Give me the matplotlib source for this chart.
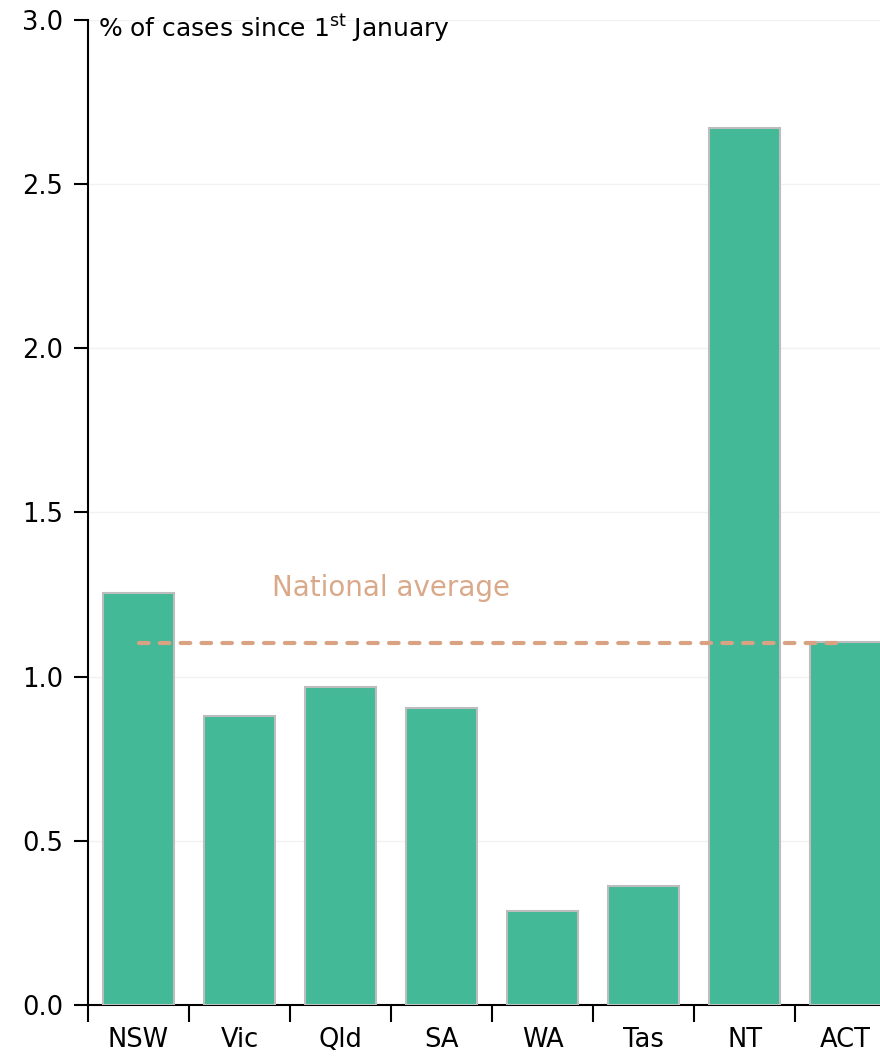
import matplotlib
matplotlib.use("Agg")
import matplotlib.pyplot as plt

categories = ["NSW", "Vic", "Qld", "SA", "WA", "Tas", "NT", "ACT"]
values = [1.255, 0.880, 0.969, 0.905, 0.286, 0.362, 2.671, 1.106]
national_average = 1.103
yticks = [0.0, 0.5, 1.0, 1.5, 2.0, 2.5, 3.0]

plt.rcParams['font.family'] = ['DejaVu Sans']
plt.rcParams['mathtext.default'] = 'regular'

fig = plt.figure(figsize=(8.8, 10.56), dpi=100)
ax = fig.add_axes([0.1, 0.0483, 0.9, 0.9328])

x = list(range(len(categories)))
ax.bar(x, values, width=0.71, color="#43B997", edgecolor="#BDBDBD", linewidth=1.5, zorder=3)
ax.plot([0, len(categories) - 1], [national_average, national_average], color="#D9A283",
        linestyle=(0, (2.3, 2.7)), linewidth=3, zorder=4, dash_capstyle='round')
ax.text(2.5, 1.27, "National average", color="#D9A98A", fontsize=20, ha="center", va="center", zorder=5)

ax.set_xlim(-0.5, 7.34)
ax.set_ylim(0, 3.0)
ax.set_yticks(yticks)
ax.set_yticklabels([f"{v:.1f}" for v in yticks])
ax.set_xticks([i - 0.5 for i in range(len(categories))])
ax.set_xticklabels([])
ax.set_xticks(x, minor=True)
ax.set_xticklabels(categories, minor=True)
ax.tick_params(axis='x', which='minor', length=0, labelsize=18.5, pad=16)
ax.tick_params(axis='x', which='major', length=12, width=1.5, color="black")
ax.tick_params(axis='y', length=10, width=1.5, labelsize=18.5, pad=8)

for s in ["top", "right"]:
    ax.spines[s].set_visible(False)
for s in ["left", "bottom"]:
    ax.spines[s].set_linewidth(1.5)
    ax.spines[s].set_color("black")

ax.yaxis.grid(True, color="#F2F2F2", linewidth=1, zorder=0)
ax.set_axisbelow(True)

ax.text(0.012, 0.992, "% of cases since 1$^{st}$ January", transform=ax.transAxes,
        fontsize=18, ha="left", va="center")

fig.savefig("out.png", dpi=100)
